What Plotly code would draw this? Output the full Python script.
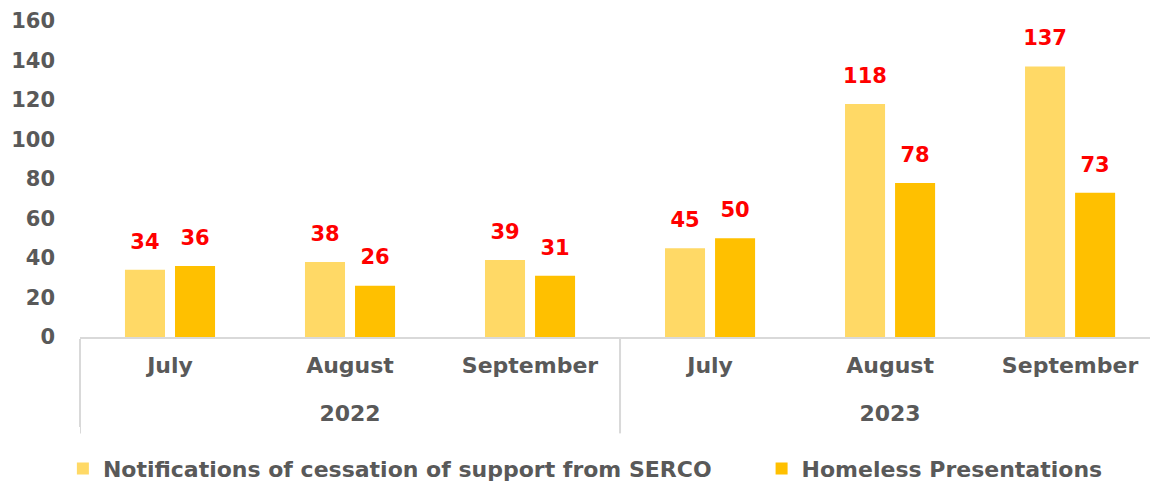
import plotly.graph_objects as go

years = ["2022", "2022", "2022", "2023", "2023", "2023"]
months = ["July", "August", "September", "July", "August", "September"]
serco = [34, 38, 39, 45, 118, 137]
homeless = [36, 26, 31, 50, 78, 73]
series_names = ["Notifications of cessation of support from SERCO", "Homeless Presentations"]
colors = ["#FFD966", "#FFC000"]

FONT = "DejaVu Sans"
GRAY = "#595959"
AXIS_GRAY = "#D9D9D9"

# month labels get a trailing blank line so the year row sits lower
month_labels = [m + "<br>\u00a0" for m in months]
legend_ids = ["legend", "legend2"]

fig = go.Figure()
for i, (name, vals, col) in enumerate(zip(series_names, [serco, homeless], colors)):
    fig.add_trace(go.Bar(
        x=[years, month_labels], y=vals, name=name,
        marker=dict(color=col, line=dict(width=0)),
        offsetgroup=str(i), legend=legend_ids[i],
    ))
for i, (name, vals) in enumerate(zip(series_names, [serco, homeless])):
    fig.add_trace(go.Scatter(
        x=[years, month_labels], y=vals, mode="markers+text",
        text=[str(v) for v in vals], textposition="top center",
        textfont=dict(family=FONT, size=21, color="#FF0000", weight="bold"),
        marker=dict(size=24, opacity=0),
        offsetgroup=str(i), showlegend=False, hoverinfo="skip",
        cliponaxis=False,
    ))

# extend the year-group dividers a little further down
n_groups = len(set(years))
per_group = len(years) // n_groups
for g in range(n_groups):
    fig.add_shape(type="line", xref="x", yref="paper",
                  x0=g * per_group - 0.5, x1=g * per_group - 0.5,
                  y0=0, y1=-0.305, line=dict(color=AXIS_GRAY, width=2), layer="below")

leg_font = dict(family=FONT, size=22, color=GRAY, weight="bold")
fig.update_layout(
    width=1150, height=483,
    margin=dict(l=80, r=0, t=21, b=146, autoexpand=False),
    paper_bgcolor="white", plot_bgcolor="white",
    barmode="group", bargap=0.444, bargroupgap=0.2,
    scattermode="group", scattergap=0.444,
    font=dict(family=FONT, size=22, color=GRAY, weight="bold"),
    showlegend=True,
    legend=dict(orientation="h", x=-0.016, xanchor="left", yref="paper", y=-0.35,
                yanchor="top", font=leg_font, itemwidth=30),
    legend2=dict(orientation="h", x=0.637, xanchor="left", yref="paper", y=-0.35,
                 yanchor="top", font=leg_font, itemwidth=30),
    xaxis=dict(type="multicategory", range=[-0.5, 5.444],
               showline=True, linecolor=AXIS_GRAY, linewidth=2,
               showdividers=True, dividercolor=AXIS_GRAY, dividerwidth=2,
               ticklabelstandoff=8,
               tickfont=dict(family=FONT, size=22, color=GRAY, weight="bold"),
               showgrid=False),
    yaxis=dict(range=[0, 160], dtick=20, showgrid=False, zeroline=False,
               showline=False, ticks="", ticklabelstandoff=24,
               tickfont=dict(family=FONT, size=21, color=GRAY, weight="bold")),
)

fig.write_html("out.html")
